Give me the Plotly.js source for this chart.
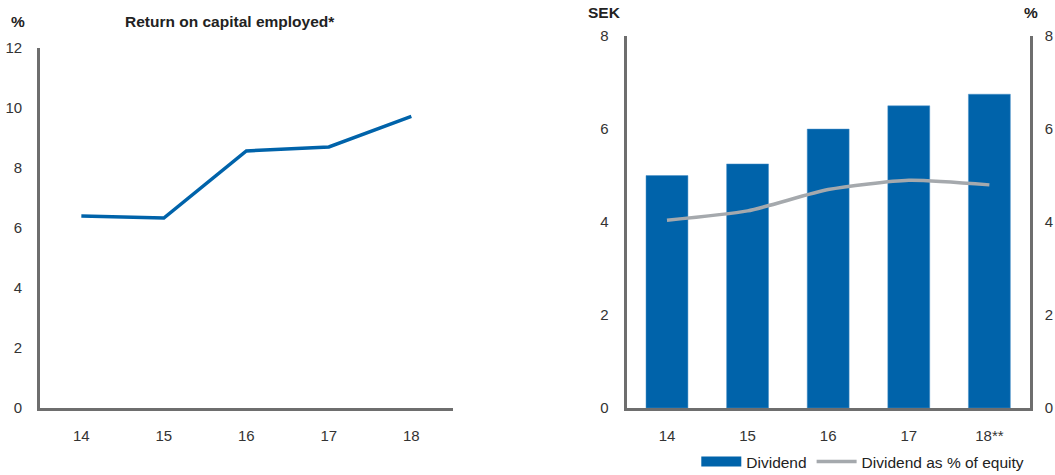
<!DOCTYPE html>
<html><head><meta charset="utf-8">
<script src="https://cdn.plot.ly/plotly-3.0.1.min.js"></script>
<style>html,body{margin:0;padding:0;background:#fff}#c{width:1055px;height:475px}</style>
</head><body><div id="c"></div>
<script>
const years = ['14','15','16','17','18'];
const yearLabelsRight = ['14','15','16','17','18**'];
const roce = [6.4, 6.33, 8.57, 8.7, 9.72];
const dividend = [5.0, 5.25, 6.0, 6.5, 6.75];
const dividendPctEquity = [4.04, 4.24, 4.7, 4.9, 4.8];

const blue = '#0063AA';
const gray = '#A5A9AD';
const axisCol = '#6e6e6e';
const fam = 'Liberation Sans, Arial, sans-serif';
const font = {family: fam, size: 15, color: '#333'};
const bigFont = {family: fam, size: 15.5, color: '#222'};

const traces = [
  {x: years, y: roce, type: 'scatter', mode: 'lines', line: {color: blue, width: 3.5, shape: 'linear'},
   xaxis: 'x', yaxis: 'y', showlegend: false},
  {x: yearLabelsRight, y: dividend, type: 'bar', name: 'Dividend', marker: {color: blue, line: {color: '#4a90c8', width: 0.5}},
   width: 0.52, xaxis: 'x2', yaxis: 'y2', showlegend: false, legendgroup: 'div'},
  {x: [null], y: [null], type: 'scatter', mode: 'lines', name: 'Dividend', legendgroup: 'div',
   line: {color: blue, width: 12}, xaxis: 'x2', yaxis: 'y2'},
  {x: yearLabelsRight, y: dividendPctEquity, type: 'scatter', mode: 'lines', name: 'Dividend as % of equity',
   line: {color: gray, width: 3.5, shape: 'spline', smoothing: 0.6}, xaxis: 'x2', yaxis: 'y3'}
];

const yAx = (range, dtick, standoff) => ({range: range, dtick: dtick, showgrid: false, zeroline: false, showline: true,
  linecolor: axisCol, linewidth: 3, ticks: '', ticklabelstandoff: standoff, tickfont: font, fixedrange: true, automargin: false});
const xAx = () => ({type: 'category', range: [-0.5, 4.5], showgrid: false, zeroline: false, showline: true,
  linecolor: axisCol, linewidth: 3, ticks: '', ticklabelstandoff: 12, tickfont: font, automargin: false});

const layout = {
  width: 1055, height: 475,
  margin: {l: 0, r: 0, t: 0, b: 0, autoexpand: false},
  paper_bgcolor: '#fff', plot_bgcolor: '#fff',
  font: font,
  showlegend: true,
  legend: {orientation: 'h', x: 0.66, y: 30/475, yanchor: 'top', xanchor: 'left', font: bigFont,
    bgcolor: 'rgba(0,0,0,0)', traceorder: 'normal', itemwidth: 40, tracegroupgap: 0},
  xaxis: Object.assign(xAx(), {domain: [0.038, 0.429], anchor: 'y'}),
  yaxis: Object.assign(yAx([0, 12], 2, 12), {domain: [0.141, 0.899], anchor: 'x'}),
  xaxis2: Object.assign(xAx(), {domain: [0.594, 0.976], anchor: 'y2'}),
  yaxis2: Object.assign(yAx([0, 8], 2, 12), {domain: [0.141, 0.924], anchor: 'x2'}),
  yaxis3: Object.assign(yAx([0, 8], 2, 9), {overlaying: 'y2', side: 'right', anchor: 'x2'}),
  annotations: [
    {text: '<b>Return on capital employed*</b>', xref: 'paper', yref: 'paper', x: 0.218, y: 1 - 22/475,
     xanchor: 'center', yanchor: 'middle', showarrow: false, font: bigFont},
    {text: '<b>%</b>', xref: 'paper', yref: 'paper', x: 18/1055, y: 1 - 22/475,
     xanchor: 'center', yanchor: 'middle', showarrow: false, font: bigFont},
    {text: '<b>SEK</b>', xref: 'paper', yref: 'paper', x: 604/1055, y: 1 - 12/475,
     xanchor: 'center', yanchor: 'middle', showarrow: false, font: bigFont},
    {text: '<b>%</b>', xref: 'paper', yref: 'paper', x: 1031/1055, y: 1 - 12/475,
     xanchor: 'center', yanchor: 'middle', showarrow: false, font: bigFont}
  ]
};

Plotly.newPlot('c', traces, layout, {displayModeBar: false, staticPlot: true});
</script></body></html>
